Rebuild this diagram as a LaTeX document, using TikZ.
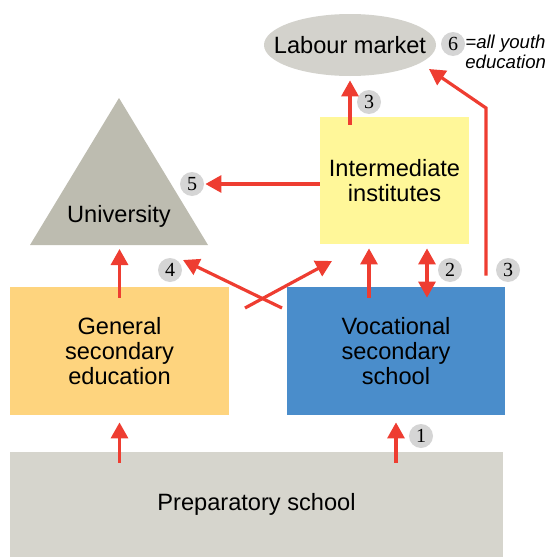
\documentclass[tikz,border=0pt]{standalone}
\usepackage{fontspec}
\setmainfont{Liberation Sans}
\newfontfamily\numfont{Liberation Serif}
\usetikzlibrary{shapes.geometric,arrows.meta}
\definecolor{arrowred}{HTML}{EE3D31}
\definecolor{prepgray}{HTML}{D6D5CD}
\definecolor{genorange}{HTML}{FED47E}
\definecolor{vocblue}{HTML}{4A8DCB}
\definecolor{interyellow}{HTML}{FFF799}
\definecolor{unigray}{HTML}{BDBCB0}
\definecolor{labourgray}{HTML}{D3D2CC}
\definecolor{numgray}{HTML}{D5D5D5}
\tikzset{
	arr/.style={draw=arrowred, line width=1.6pt, -{Triangle[length=8pt,width=8.5pt]}},
	darr/.style={draw=arrowred, line width=1.6pt, {Triangle[length=8pt,width=8.5pt]}-{Triangle[length=8pt,width=8.5pt]}},
	num/.style={circle, fill=numgray, minimum size=12pt, inner sep=0pt, font=\numfont\fontsize{10}{10}\selectfont},
	blk/.style={rectangle, inner sep=0pt, align=center, font=\fontsize{11.8}{12.3}\selectfont},
}

\begin{document}
\begin{tikzpicture}[x=0.5pt,y=-0.5pt]
	\useasboundingbox (0,0) rectangle (547,557);

	% boxes
	\node[blk, fill=prepgray, minimum width=246.5pt, minimum height=52.5pt] (prep) at (256.5,504.5) {Preparatory school};
	\node[blk, fill=genorange, minimum width=109.5pt, minimum height=64pt] (gen) at (119.5,351) {General\\secondary\\education};
	\node[blk, fill=vocblue, minimum width=109pt, minimum height=64pt] (voc) at (396,351) {Vocational\\secondary\\school};
	\node[blk, fill=interyellow, minimum width=74.5pt, minimum height=63.5pt] (inter) at (394.5,180.5) {Intermediate\\institutes};
	\node[ellipse, fill=labourgray, inner sep=0pt, minimum width=86pt, minimum height=31pt] (labour) at (350,45) {};
	\node[blk] (lmtext) at (labour.center) {Labour market};

	% university
	\fill[unigray] (119,98) coordinate (T) -- (208,245) coordinate (R) -- (30,245) coordinate (L) -- cycle;
	\node[blk] (uni) at (119,216) {University};

	% numbers
	\node[num] (n6) at (453,44) {6};
	\node[anchor=west, align=left, inner sep=0pt, font=\itshape\fontsize{9.3}{8}\selectfont] (note) at (465,52) {=all youth\\education};
	\node[num] (n3a) at (369,102) {3};
	\node[num] (n5) at (192,184) {5};
	\node[num] (n4) at (170,270) {4};
	\node[num] (n2) at (450,270) {2};
	\node[num] (n3b) at (508,270) {3};
	\node[num] (n1) at (421,436) {1};

	% arrows
	\draw[arr, shorten <=-5.5pt, shorten >=3.5pt] (gen.south |- prep.north) -- (gen.south);
	\draw[arr, shorten <=-5.5pt, shorten >=3.5pt] (voc.south |- prep.north) -- (voc.south);
	\draw[arr, shorten <=-5.5pt, shorten >=2pt] (gen.north) -- (gen.north |- L);
	\draw[arr, shorten <=-5.5pt, shorten >=2pt] ([xshift=-13.5pt]voc.north) -- ([xshift=-13.5pt]voc.north |- inter.south);
	\draw[darr, shorten <=2pt, shorten >=-5.5pt] ([xshift=15.5pt]voc.north |- inter.south) -- ([xshift=15.5pt]voc.north);
	\draw[arr, shorten <=-4pt, shorten >=2pt] (inter.north -| labour.south) -- (labour.south);
	\draw[arr, shorten >=0.5pt] (inter.west |- n5) -- (n5);

	% crossing arrows
	\coordinate (c4a) at (282,308);
	\coordinate (c4b) at (183,260);
	\coordinate (c1a) at (245,308);
	\coordinate (c1b) at (332,261);
	\draw[arr] (c4a) -- (c4b);
	\draw[arr] (c1a) -- (c1b);

	% voc to labour market
	\coordinate (bend) at (486,108);
	\coordinate (lmend) at (429,69);
	\draw[arr] ([shift={(45pt,5.5pt)}]voc.north) -- (bend) -- (lmend);
\end{tikzpicture}
\end{document}
